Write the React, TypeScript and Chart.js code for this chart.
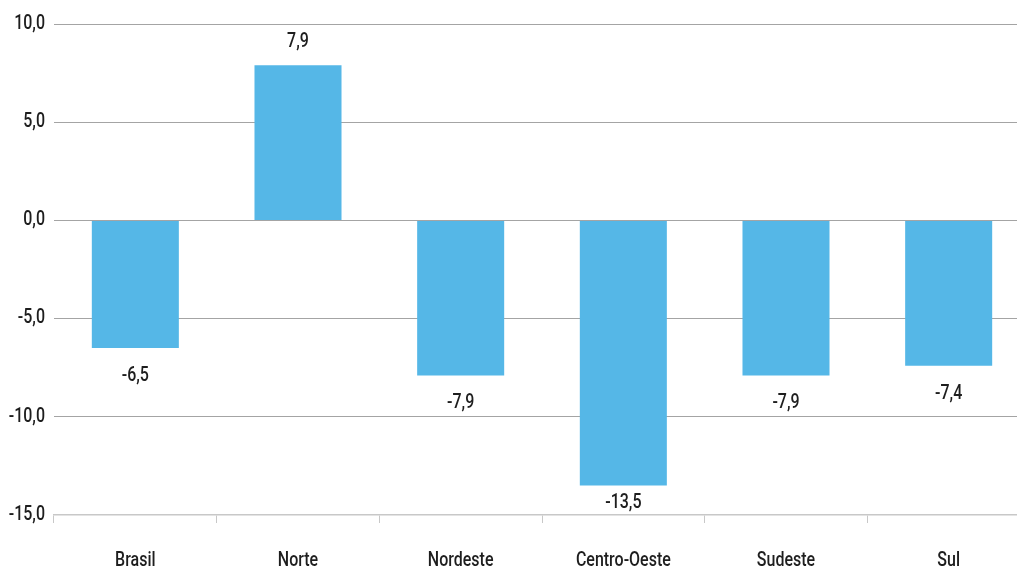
import React, { useEffect, useRef } from "react";
import { Chart, registerables } from "chart.js";

Chart.register(...registerables);

const categories = ["Brasil", "Norte", "Nordeste", "Centro-Oeste", "Sudeste", "Sul"];
const values = [-6.5, 7.9, -7.9, -13.5, -7.9, -7.4];
const yMin = -15;
const yMax = 10;
const yStep = 5;

const FONT = 'Roboto, "Noto Sans", sans-serif';
const FONT_SIZE = 19.5;
const SQUEEZE = 0.82;
const fmt = (v: number) => v.toFixed(1).replace(".", ",");

function drawCondensed(ctx: CanvasRenderingContext2D, text: string, x: number, y: number, align: CanvasTextAlign) {
  ctx.save();
  ctx.translate(x, y);
  ctx.scale(SQUEEZE, 1);
  ctx.textAlign = align;
  ctx.textBaseline = "middle";
  ctx.fillText(text, 0, 0);
  ctx.restore();
}

const labelPlugin = {
  id: "condensedLabels",
  afterDraw(chart: any) {
    const ctx = chart.ctx as CanvasRenderingContext2D;
    const area = chart.chartArea;
    const xs = chart.scales.x;
    const ys = chart.scales.y;
    ctx.save();
    ctx.font = `500 ${FONT_SIZE}px ${FONT}`;
    ctx.fillStyle = "#1e1e1e";
    // value labels
    const meta = chart.getDatasetMeta(0);
    meta.data.forEach((bar: any, i: number) => {
      const v = values[i];
      const y = v >= 0 ? bar.y - 23 : Math.min(bar.y + 28, area.bottom - 12);
      drawCondensed(ctx, fmt(v), bar.x, y, "center");
    });
    // x category labels
    categories.forEach((c, i) => {
      drawCondensed(ctx, c, xs.getPixelForTick(i), area.bottom + 46, "center");
    });
    // y tick labels
    ys.ticks.forEach((t: any, i: number) => {
      drawCondensed(ctx, fmt(t.value), area.left - 9, ys.getPixelForTick(i), "right");
    });
    ctx.restore();
  },
};

export default function App() {
  const ref = useRef<HTMLCanvasElement | null>(null);
  useEffect(() => {
    if (!ref.current) return;
    const chart = new Chart(ref.current, {
      type: "bar",
      data: {
        labels: categories,
        datasets: [
          {
            data: values,
            backgroundColor: "#55b7e7",
            barPercentage: 0.535,
            categoryPercentage: 1,
          },
        ],
      },
      options: {
        animation: false,
        responsive: false,
        maintainAspectRatio: false,
        layout: { padding: { top: 24, right: 0, left: 0, bottom: 0 } },
        plugins: { legend: { display: false }, tooltip: { enabled: false } },
        scales: {
          x: {
            grid: {
              display: true,
              drawOnChartArea: false,
              drawTicks: true,
              tickLength: 8,
              color: "#c8c8c8",
              offset: true,
            },
            border: { display: true, color: "#c8c8c8", width: 1.5 },
            ticks: {
              color: "rgba(0,0,0,0)",
              font: { family: FONT, size: FONT_SIZE },
              padding: 26,
            },
            afterFit: (s: any) => {
              s.height = 55;
            },
          },
          y: {
            min: yMin,
            max: yMax,
            ticks: {
              stepSize: yStep,
              color: "rgba(0,0,0,0)",
              font: { family: FONT, size: FONT_SIZE },
              padding: 9,
              callback: (v: any) => fmt(Number(v)),
            },
            grid: {
              color: (c: any) => (c.tick && c.tick.value === yMin ? "rgba(0,0,0,0)" : "#a4a4a4"),
              drawTicks: false,
              lineWidth: 1,
            },
            border: { display: false },
            afterFit: (s: any) => {
              s.width = 54;
            },
          },
        },
      },
      plugins: [labelPlugin],
    });
    return () => chart.destroy();
  }, []);
  return (
    <div style={{ position: "fixed", left: 0, top: 0, width: 1017, height: 570, overflow: "hidden", background: "#fff" }}>
      <canvas ref={ref} width={1030} height={570} style={{ display: "block", width: 1030, height: 570 }} />
    </div>
  );
}
